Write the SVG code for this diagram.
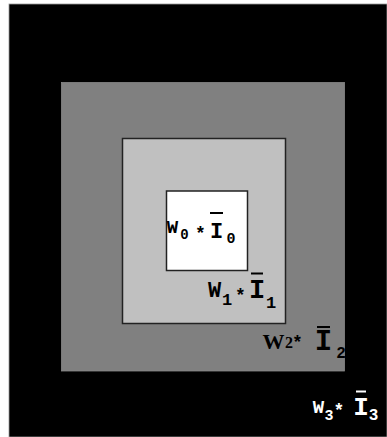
<svg xmlns="http://www.w3.org/2000/svg" width="387" height="437" viewBox="0 0 387 437">
<style>
text{font-family:"Liberation Mono","DejaVu Sans Mono",monospace;font-weight:bold;text-anchor:middle}
.dk{fill:#000}
.wt{fill:#fff}
.ov{stroke-width:2}
.bd{stroke:#222;stroke-width:1.5}
.sf{font-family:"Liberation Serif",serif}
</style>
<rect x="0" y="0" width="387" height="437" fill="#fff"/>
<g id="level3">
<rect x="9" y="4" width="378" height="433" fill="#000" stroke="#999" stroke-width="0.8"/>
</g>
<g id="level2">
<rect x="61.5" y="82.5" width="283" height="288.5" fill="#808080" stroke="#888" stroke-width="0.8"/>
</g>
<g id="level1">
<rect x="122.5" y="138.5" width="163" height="185" fill="#c0c0c0" class="bd"/>
</g>
<g id="level0">
<rect x="166.5" y="191" width="81" height="79.5" fill="#fff" class="bd"/>
</g>
<g id="label0" class="dk">
<text x="172.5" y="233" font-size="19">W</text>
<text x="184.5" y="239" font-size="14">0</text>
<text x="200.5" y="239" font-size="18">*</text>
<text x="216.5" y="238" font-size="22">I</text>
<line x1="210" y1="213" x2="223" y2="213" stroke="#000" class="ov"/>
<text x="231" y="243" font-size="15">0</text>
</g>
<g id="label1" class="dk">
<text x="214.5" y="297" font-size="22">W</text>
<text x="227" y="305" font-size="17">1</text>
<text x="240.5" y="301" font-size="18">*</text>
<text x="257" y="298" font-size="27">I</text>
<line x1="251" y1="273.5" x2="263" y2="273.5" stroke="#000" class="ov"/>
<text x="271" y="308" font-size="17">1</text>
</g>
<g id="label2" class="dk">
<text x="273.5" y="349" font-size="22" class="sf">W</text>
<text x="289" y="348" font-size="16" class="sf">2</text>
<text x="297.5" y="348" font-size="18">*</text>
<text x="323.5" y="350" font-size="29">I</text>
<line x1="317" y1="327" x2="330" y2="327" stroke="#000" class="ov"/>
<text x="341" y="358" font-size="16">2</text>
</g>
<g id="label3" class="wt">
<text x="318.5" y="413" font-size="19">W</text>
<text x="329" y="420" font-size="15">3</text>
<text x="339" y="416" font-size="18">*</text>
<text x="361" y="415" font-size="26">I</text>
<line x1="356" y1="391.5" x2="366" y2="391.5" stroke="#fff" class="ov"/>
<text x="373.5" y="420" font-size="16">3</text>
</g>
</svg>
